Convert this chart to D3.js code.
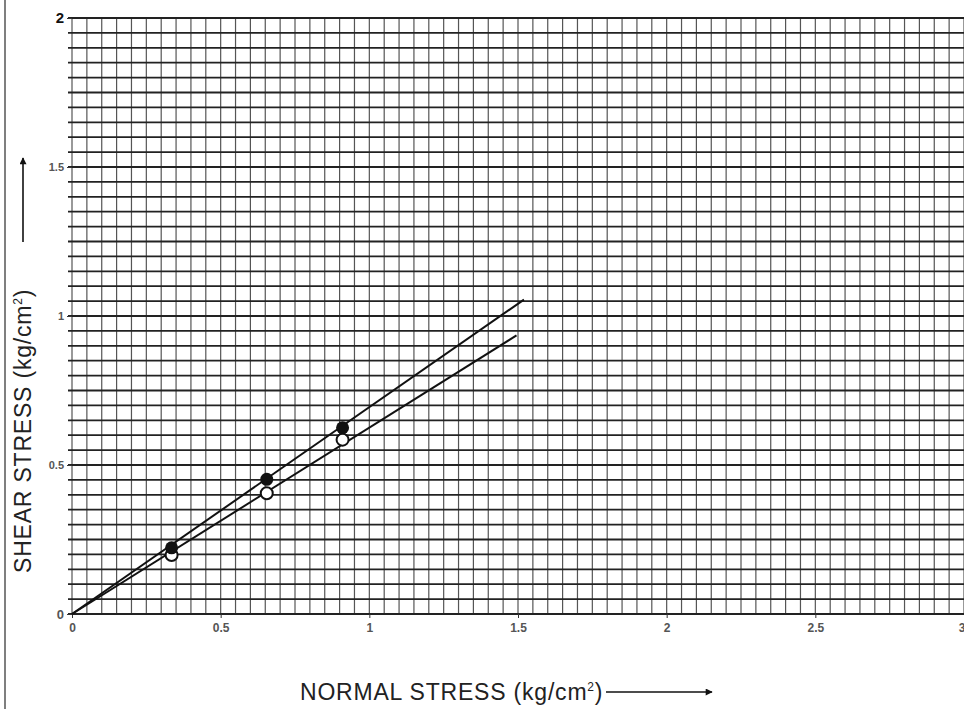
<!DOCTYPE html>
<html><head><meta charset="utf-8">
<script src="https://cdn.jsdelivr.net/npm/d3@7"></script>
<style>body{margin:0;background:#fff}svg{display:block}</style>
</head><body>
<svg id="c" width="964" height="709"></svg>
<script>
// Data
const xTicks = [0, 0.5, 1, 1.5, 2, 2.5, 3];
const xTickLabels = ["0", "0.5", "1", "1.5", "2", "2.5", "3"];
const yTicks = [0, 0.5, 1, 1.5, 2];
const yTickLabels = ["0", "0.5", "1", "1.5", "2"];
const normalStress = [0.335, 0.655, 0.91];
const shearFilled = [0.222, 0.452, 0.625];
const shearOpen = [0.198, 0.405, 0.585];
const lineUpper = [[0, 0], [1.52, 1.055]];
const lineLower = [[0, 0], [1.495, 0.935]];
const gridStep = 0.05;

const svg = d3.select("#c");
const x = d3.scaleLinear().domain([0, 3]).range([72, 964]);
const y = d3.scaleLinear().domain([0, 2]).range([614, 18]);

svg.append("rect").attr("width", 964).attr("height", 709).attr("fill", "#fff");
// frame left line
svg.append("line").attr("x1", 5).attr("x2", 5).attr("y1", 0).attr("y2", 709)
  .attr("stroke", "#555").attr("stroke-width", 1.5);

const g = svg.append("g");
const vx = d3.range(0, 3 + 1e-9, gridStep);
const hy = d3.range(0, 2 + 1e-9, gridStep);
g.selectAll(".v").data(vx).join("line")
  .attr("x1", d => x(d)).attr("x2", d => x(d))
  .attr("y1", y(2)).attr("y2", y(0))
  .attr("stroke", "#555").attr("stroke-width", 1.2);
g.selectAll(".h").data(hy).join("line")
  .attr("x1", x(0) - 4).attr("x2", x(3))
  .attr("y1", d => y(d)).attr("y2", d => y(d))
  .attr("stroke", "#222").attr("stroke-width", 1.8);

// axis ticks labels
const ff = "Liberation Sans, Arial, sans-serif";
const xa = svg.append("g").attr("transform", `translate(0,${y(0)})`)
  .call(d3.axisBottom(x).tickValues(xTicks).tickFormat((d, i) => xTickLabels[i]).tickSize(4));
xa.select(".domain").remove();
xa.selectAll("line").attr("stroke", "#333");
xa.selectAll("text").attr("font-family", ff)
  .attr("font-size", 12).attr("font-weight", "bold").attr("fill", "#555").attr("dy", "0.9em")
  .attr("text-anchor", d => d === 3 ? "end" : "middle")
  .attr("dx", d => d === 3 ? 1 : 0);

const ya = svg.append("g").attr("transform", `translate(${x(0)},0)`)
  .call(d3.axisLeft(y).tickValues(yTicks).tickFormat((d, i) => yTickLabels[i]).tickSize(5));
ya.select(".domain").remove();
ya.selectAll("line").attr("stroke", "#333");
ya.selectAll("text").attr("font-family", ff)
  .attr("font-size", d => d === 2 ? 15 : (d === 0 ? 13 : 11))
  .attr("font-weight", "bold").attr("fill", d => d === 2 ? "#111" : "#555");

// failure envelope lines
const line = d3.line().x(d => x(d[0])).y(d => y(d[1]));
[lineUpper, lineLower].forEach(l => {
  svg.append("path").attr("d", line(l)).attr("fill", "none")
    .attr("stroke", "#111").attr("stroke-width", 2);
});

// points
svg.selectAll(".po").data(normalStress).join("circle")
  .attr("cx", (d) => x(d)).attr("cy", (d, i) => y(shearOpen[i])).attr("r", 6)
  .attr("fill", "#fff").attr("stroke", "#111").attr("stroke-width", 2);
svg.selectAll(".pf").data(normalStress).join("circle")
  .attr("cx", (d) => x(d)).attr("cy", (d, i) => y(shearFilled[i])).attr("r", 6.5)
  .attr("fill", "#111");

// axis titles
const xt = svg.append("text").attr("x", 300).attr("y", 700).attr("font-family", ff)
  .attr("font-size", 23).attr("letter-spacing", 0.8).attr("fill", "#222");
xt.append("tspan").text("NORMAL STRESS (kg/cm");
xt.append("tspan").text("2").attr("font-size", 12).attr("dy", -9);
xt.append("tspan").text(")").attr("dy", 9);

const yt = svg.append("text").attr("transform", `translate(31,573) rotate(-90)`)
  .attr("font-family", ff).attr("font-size", 23).attr("letter-spacing", 0.8).attr("fill", "#222");
yt.append("tspan").text("SHEAR STRESS (kg/cm");
yt.append("tspan").text("2").attr("font-size", 12).attr("dy", -9);
yt.append("tspan").text(")").attr("dy", 9);

// arrows
svg.append("defs").append("marker").attr("id", "ah").attr("viewBox", "0 0 10 10")
  .attr("refX", 9).attr("refY", 5).attr("markerWidth", 12).attr("markerHeight", 7)
  .attr("markerUnits", "userSpaceOnUse").attr("orient", "auto")
  .append("path").attr("d", "M0,0L10,5L0,10z").attr("fill", "#111");
svg.append("line").attr("x1", 606).attr("x2", 712).attr("y1", 692).attr("y2", 692)
  .attr("stroke", "#111").attr("stroke-width", 1.6).attr("marker-end", "url(#ah)");
svg.append("line").attr("x1", 23).attr("x2", 23).attr("y1", 242).attr("y2", 158)
  .attr("stroke", "#111").attr("stroke-width", 1.6).attr("marker-end", "url(#ah)");
</script>
</body></html>
